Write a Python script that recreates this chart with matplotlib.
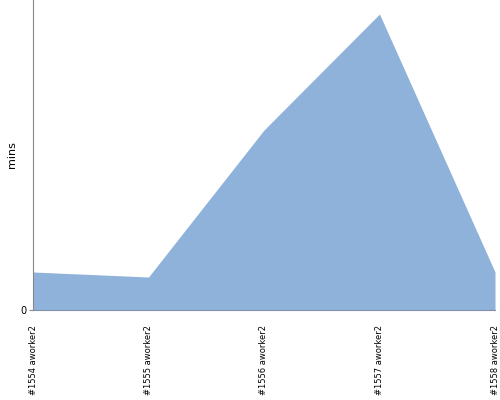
import matplotlib
matplotlib.use("Agg")
import matplotlib.pyplot as plt
from matplotlib import font_manager

# build labels and durations
builds = ["#1554 aworker2", "#1555 aworker2", "#1556 aworker2",
          "#1557 aworker2", "#1558 aworker2"]
durations = [38, 33, 180, 296, 38]
y_max = 310

names = {f.name for f in font_manager.fontManager.ttflist}
label_font = "Liberation Sans Narrow" if "Liberation Sans Narrow" in names else "DejaVu Sans"

fig = plt.figure(figsize=(5, 4), dpi=100)
ax = fig.add_axes([0.066, 0.225, 0.924, 0.775])

x = list(range(len(builds)))
ax.fill_between(x, durations, 0, color="#8fb2da", linewidth=0)

ax.set_xlim(0, len(builds) - 1)
ax.set_ylim(0, y_max)
ax.set_xticks(x)
ax.set_xticklabels(builds, rotation=90, fontsize=6, family=label_font)
ax.set_yticks([0])
ax.set_yticklabels(["0"], fontsize=7)
ax.tick_params(axis="x", length=0, pad=11)
ax.tick_params(axis="y", length=3, pad=1.5, color="#888888")
ax.set_ylabel("mins", fontsize=8)
ax.yaxis.set_label_coords(-0.035, 0.5)

for side in ("top", "right"):
    ax.spines[side].set_visible(False)
ax.spines["left"].set_color("#888888")
ax.spines["bottom"].set_color("#8090a8")

fig.savefig("out.png")
